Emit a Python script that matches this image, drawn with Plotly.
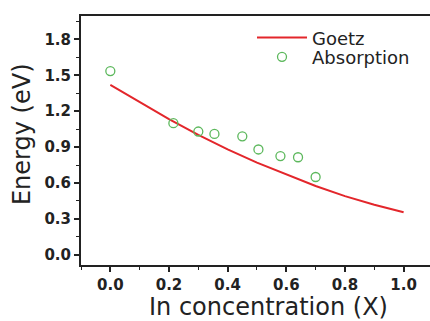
import plotly.graph_objects as go

# Goetz curve
goetz_x = [0.0, 0.1, 0.2, 0.3, 0.4, 0.5, 0.6, 0.7, 0.8, 0.9, 1.0]
goetz_y = [1.42, 1.274, 1.133, 1.002, 0.881, 0.77, 0.67, 0.575, 0.49, 0.418, 0.355]

# Absorption points
abs_x = [0.0, 0.215, 0.30, 0.355, 0.45, 0.505, 0.58, 0.64, 0.70]
abs_y = [1.535, 1.10, 1.03, 1.01, 0.99, 0.88, 0.825, 0.815, 0.65]

x_ticks = [0.0, 0.2, 0.4, 0.6, 0.8, 1.0]
y_ticks = [0.0, 0.3, 0.6, 0.9, 1.2, 1.5, 1.8]

FONT = "DejaVu Sans"
INK = "#222"

fig = go.Figure()
fig.add_trace(go.Scatter(x=goetz_x, y=goetz_y, mode="lines", name="Goetz",
                         line=dict(color="#e3262b", width=2), legend="legend"))
fig.add_trace(go.Scatter(x=abs_x, y=abs_y, mode="markers", name="Absorption",
                         marker=dict(symbol="circle-open", size=9,
                                     color="#5cb85c", line=dict(width=1.3)),
                         legend="legend2"))

leg_common = dict(xanchor="left", yanchor="middle", bgcolor="rgba(0,0,0,0)",
                  itemwidth=50, font=dict(family=FONT, size=18, color=INK))

fig.update_layout(
    width=430, height=321,
    margin=dict(l=81, r=0, t=16, b=56),
    paper_bgcolor="white", plot_bgcolor="white",
    showlegend=True,
    legend=dict(x=0.49, y=0.912, **leg_common),
    legend2=dict(x=0.49, y=0.835, **leg_common),
    font=dict(family=FONT, color=INK),
    annotations=[
        dict(text="In concentration (X)", xref="paper", yref="paper",
             x=0.536, y=-0.169, xanchor="center", yanchor="middle", showarrow=False,
             font=dict(family=FONT, size=24, color=INK)),
        dict(text="Energy (eV)", xref="paper", yref="paper", textangle=-90,
             x=-0.169, y=0.526, xanchor="center", yanchor="middle", showarrow=False,
             font=dict(family=FONT, size=24, color=INK)),
    ],
)
fig.update_xaxes(
    range=[-0.1, 1.09], tickvals=x_ticks, ticktext=[f"{v:.1f}" for v in x_ticks],
    showgrid=False, zeroline=False, showline=True, linecolor=INK, linewidth=2,
    mirror=True, ticks="outside", ticklen=5, tickwidth=1.5, tickcolor=INK,
    tickfont=dict(family=FONT, size=15, color=INK, weight="bold"),
    minor=dict(dtick=0.1, tick0=0, ticks="outside", ticklen=3, tickwidth=1.2, tickcolor=INK),
)
fig.update_yaxes(
    range=[-0.085, 1.995], tickvals=y_ticks, ticktext=[f"{v:.1f}" for v in y_ticks],
    showgrid=False, zeroline=False, showline=True, linecolor=INK, linewidth=2,
    ticks="outside", ticklen=5, tickwidth=1.5, tickcolor=INK,
    tickfont=dict(family=FONT, size=15, color=INK, weight="bold"),
    minor=dict(dtick=0.15, tick0=0, ticks="outside", ticklen=3, tickwidth=1.2, tickcolor=INK),
)

fig.write_html("out.html")
